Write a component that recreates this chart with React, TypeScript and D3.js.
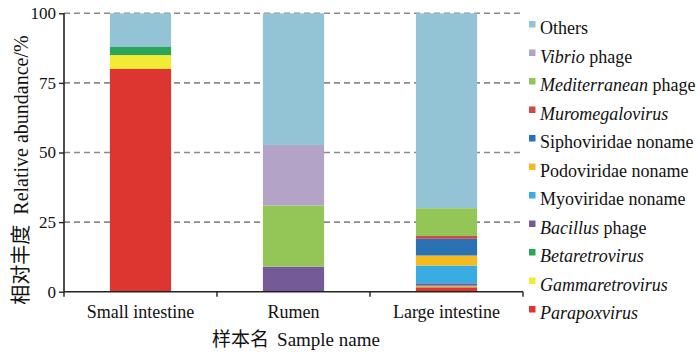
import React, { useEffect, useRef } from 'react';
import * as d3 from 'd3';

const width = 700;
const height = 352;
const margin = { top: 13.3, right: 177, bottom: 60.3, left: 64 };

const samples = ['Small intestine', 'Rumen', 'Large intestine'];
const yTicks = [0, 25, 50, 75, 100];

// bottom to top of each stack
const taxa = [
  'Parapoxvirus', 'Gammaretrovirus', 'Betaretrovirus', 'Bacillus phage',
  'Myoviridae noname', 'Podoviridae noname', 'Siphoviridae noname',
  'Muromegalovirus', 'Mediterranean phage', 'Vibrio phage', 'Others',
];
const parapoxvirus = [80, 0, 1.6];
const gammaretrovirus = [5, 0, 0.3];
const betaretrovirus = [2.9, 0, 0.3];
const bacillusPhage = [0, 9, 0.8];
const myoviridae = [0, 0, 6.4];
const podoviridae = [0, 0, 3.6];
const siphoviridae = [0, 0, 6];
const muromegalovirus = [0, 0, 1];
const mediterraneanPhage = [0, 22, 10];
const vibrioPhage = [0, 21.7, 0];
const others = [12.1, 47.3, 70];

const colors = [
  '#dd3530', '#f2ea35', '#2ba65a', '#745a97', '#39ade2', '#f4ba1e',
  '#2a72b3', '#cf494b', '#93c657', '#b2a3c7', '#93c4d5',
];

// legend label: [italic part, roman part]
const legendParts: [string, string][] = [
  ['Parapoxvirus', ''], ['Gammaretrovirus', ''], ['Betaretrovirus', ''],
  ['Bacillus', ' phage'], ['', 'Myoviridae noname'], ['', 'Podoviridae noname'],
  ['', 'Siphoviridae noname'], ['Muromegalovirus', ''], ['Mediterranean', ' phage'],
  ['Vibrio', ' phage'], ['', 'Others'],
];

const font = '"Liberation Serif", "Times New Roman", serif';
const cjk = '"Noto Sans CJK SC", sans-serif';

const App = () => {
  const svgRef = useRef<SVGSVGElement>(null);

  useEffect(() => {
    const svg = d3.select(svgRef.current);
    svg.selectAll('*').remove();

    const series = [parapoxvirus, gammaretrovirus, betaretrovirus, bacillusPhage, myoviridae,
      podoviridae, siphoviridae, muromegalovirus, mediterraneanPhage, vibrioPhage, others];
    const rows = samples.map((s, i) => {
      const r: any = { sample: s };
      taxa.forEach((t, j) => { r[t] = series[j][i]; });
      return r;
    });
    const stacked = d3.stack().keys(taxa)(rows);

    const x = d3.scaleBand().domain(samples)
      .range([margin.left, width - margin.right])
      .paddingInner(0.6).paddingOuter(0.3);
    const y = d3.scaleLinear().domain([0, 100])
      .range([height - margin.bottom, margin.top]);

    // dashed grid
    svg.append('g').selectAll('line')
      .data(yTicks.filter(d => d > 0))
      .enter().append('line')
      .attr('x1', margin.left).attr('x2', width - margin.right)
      .attr('y1', d => y(d)).attr('y2', d => y(d))
      .attr('stroke', '#8a8a8a').attr('stroke-width', 1.6)
      .attr('stroke-dasharray', '6,4');

    // bars
    svg.append('g').selectAll('g')
      .data(stacked)
      .enter().append('g')
      .attr('fill', (_, i) => colors[i])
      .selectAll('rect')
      .data(d => d)
      .enter().append('rect')
      .attr('x', d => x(d.data.sample as string)!)
      .attr('width', x.bandwidth())
      .attr('y', d => y(d[1]))
      .attr('height', d => y(d[0]) - y(d[1]));

    // y axis
    const yAxis = svg.append('g')
      .attr('transform', `translate(${margin.left},0)`)
      .call(d3.axisLeft(y).tickValues(yTicks).tickSize(5).tickPadding(3));
    yAxis.select('.domain').attr('stroke', '#222').attr('stroke-width', 1.6)
      .attr('d', `M0,${y(0)}V${y(100)}`);
    yAxis.selectAll('.tick line').attr('stroke', '#222').attr('stroke-width', 1.4);
    yAxis.selectAll('.tick text').attr('font-family', font).attr('font-size', 17).attr('fill', '#111');

    // x axis with ticks at category boundaries
    const xg = svg.append('g').attr('transform', `translate(0,${y(0)})`);
    xg.append('line')
      .attr('x1', margin.left).attr('x2', width - margin.right)
      .attr('stroke', '#222').attr('stroke-width', 1.6);
    xg.selectAll('.bt')
      .data(d3.range(samples.length + 1))
      .enter().append('line')
      .attr('x1', i => margin.left + i * x.step()).attr('x2', i => margin.left + i * x.step())
      .attr('y1', 0).attr('y2', 5)
      .attr('stroke', '#222').attr('stroke-width', 1.4);
    xg.selectAll('text')
      .data(samples)
      .enter().append('text')
      .attr('x', d => x(d)! + x.bandwidth() / 2)
      .attr('y', 26)
      .attr('text-anchor', 'middle')
      .attr('font-family', font).attr('font-size', 18).attr('fill', '#111')
      .text(d => d);

    // axis titles
    const xt = svg.append('text')
      .attr('x', 296).attr('y', 346)
      .attr('text-anchor', 'middle')
      .attr('font-size', 19).attr('fill', '#111');
    xt.append('tspan').attr('font-family', cjk).text('样本名');
    xt.append('tspan').attr('font-family', font).attr('dx', 8).text('Sample name');

    const yt = svg.append('text')
      .attr('transform', 'rotate(-90)')
      .attr('x', -170).attr('y', 28)
      .attr('text-anchor', 'middle')
      .attr('font-size', 20).attr('fill', '#111');
    yt.append('tspan').attr('font-family', cjk).text('相对丰度');
    yt.append('tspan').attr('font-family', font).attr('dx', 10).text('Relative abundance/%');

    // legend, top row = last series
    const lg = svg.append('g');
    const order = d3.range(taxa.length).reverse();
    const ly = d3.scalePoint().domain(order.map(String)).range([28, 313]);
    const items = lg.selectAll('g')
      .data(order)
      .enter().append('g')
      .attr('transform', i => `translate(529,${ly(String(i))})`);
    items.append('rect')
      .attr('x', 0).attr('y', -7).attr('width', 6.5).attr('height', 6.5)
      .attr('fill', i => colors[i]);
    const lt = items.append('text')
      .attr('x', 11).attr('y', 6)
      .attr('font-family', font).attr('font-size', 18).attr('fill', '#111');
    lt.append('tspan').attr('font-style', 'italic').text(i => legendParts[i][0]);
    lt.append('tspan').text(i => legendParts[i][1]);
  }, []);

  return (
    <svg ref={svgRef} width={width} height={height}
      style={{ position: 'absolute', left: 0, top: 0, background: '#fff' }} />
  );
};

export default App;
